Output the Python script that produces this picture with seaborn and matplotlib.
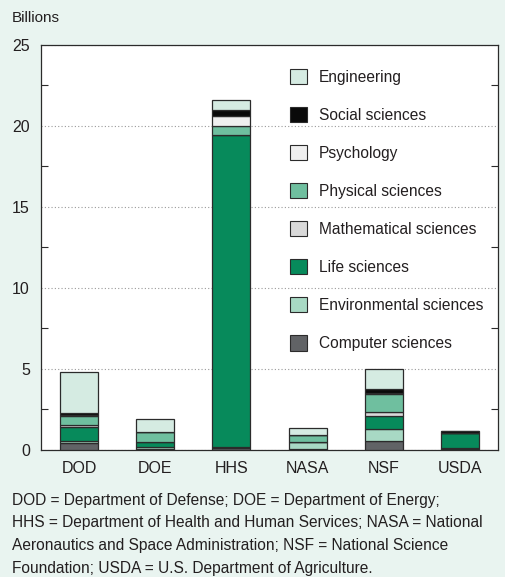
import numpy as np
import matplotlib
matplotlib.use("Agg")
import matplotlib.pyplot as plt
import seaborn as sns
from matplotlib.patches import Patch
from matplotlib.ticker import MultipleLocator

# ---- data (billions of dollars) ----
agencies = ["DOD", "DOE", "HHS", "NASA", "NSF", "USDA"]
# stacking order bottom -> top
fields = ["Computer sciences", "Environmental sciences", "Life sciences",
          "Mathematical sciences", "Physical sciences", "Psychology",
          "Social sciences", "Engineering"]
computer_sciences = [0.38, 0.06, 0.10, 0.02, 0.51, 0.02]
environmental_sciences = [0.17, 0.10, 0.05, 0.44, 0.78, 0.05]
life_sciences = [0.86, 0.30, 19.30, 0.02, 0.78, 0.93]
mathematical_sciences = [0.10, 0.00, 0.00, 0.00, 0.25, 0.00]
physical_sciences = [0.55, 0.62, 0.57, 0.42, 1.14, 0.03]
psychology = [0.05, 0.00, 0.62, 0.00, 0.05, 0.00]
social_sciences = [0.15, 0.00, 0.35, 0.00, 0.20, 0.12]
engineering = [2.53, 0.83, 0.62, 0.42, 1.24, 0.01]
series = [computer_sciences, environmental_sciences, life_sciences,
          mathematical_sciences, physical_sciences, psychology,
          social_sciences, engineering]

colors = {
    "Engineering": "#d5ebe2",
    "Social sciences": "#0a0a0a",
    "Psychology": "#efefef",
    "Physical sciences": "#6fbf9f",
    "Mathematical sciences": "#d9d9d9",
    "Life sciences": "#078a5b",
    "Environmental sciences": "#a8d9c4",
    "Computer sciences": "#616366",
}

footnote = [
    "DOD = Department of Defense; DOE = Department of Energy;",
    "HHS = Department of Health and Human Services; NASA = National",
    "Aeronautics and Space Administration; NSF = National Science",
    "Foundation; USDA = U.S. Department of Agriculture.",
]

BG = "#e9f4f0"
TXT = "#231f20"
EDGE = "#2b2b2b"

sns.set_theme(style="white")
plt.rcParams["font.family"] = ["Liberation Sans", "DejaVu Sans"]
plt.rcParams["text.color"] = TXT

W, H = 506, 577
fig = plt.figure(figsize=(W / 100, H / 100), dpi=100, facecolor=BG)
ax = fig.add_axes([41 / W, 1 - 449.5 / H, (498 - 41) / W, (449.5 - 45) / H])
ax.set_facecolor("white")

bottom = np.zeros(len(agencies))
for f, vals in zip(fields, series):
    sns.barplot(x=agencies, y=vals, order=agencies, color=colors[f],
                saturation=1, width=0.5, errorbar=None,
                bottom=bottom.copy(), edgecolor=EDGE, linewidth=0.9,
                zorder=3, ax=ax)
    bottom += np.array(vals)

ax.set_xlim(-0.5, 5.5)
ax.set_ylim(0, 25)
ax.set_xlabel("")
ax.set_ylabel("")
ax.yaxis.set_major_locator(MultipleLocator(5))
ax.yaxis.set_minor_locator(MultipleLocator(2.5))
ax.tick_params(axis="y", which="major", length=0, pad=8, labelsize=11.5,
               labelcolor=TXT)
ax.tick_params(axis="y", which="minor", direction="in", length=5, width=0.8,
               left=True, right=True, color=EDGE)
ax.tick_params(axis="x", length=0, pad=8, labelsize=11.5, labelcolor=TXT)
ax.set_axisbelow(True)
ax.grid(axis="y", which="major", linestyle=(0, (1, 2)), color="#9a9a9a",
        linewidth=0.8)
for s in ax.spines.values():
    s.set_visible(True)
    s.set_color(EDGE)
    s.set_linewidth(0.9)

handles = [Patch(facecolor=colors[f], edgecolor=EDGE, linewidth=0.8, label=f)
           for f in fields[::-1]]
ax.legend(handles=handles, loc="upper left", bbox_to_anchor=(0.545, 0.94),
          frameon=False, fontsize=11.2, handlelength=1.12, handleheight=1.12,
          handletextpad=0.75, labelspacing=1.425, borderpad=0,
          borderaxespad=0, labelcolor=TXT)

fig.text(12 / W, 1 - 18 / H, "Billions", ha="left", va="center",
         fontsize=11, color=TXT)
for i, line in enumerate(footnote):
    fig.text(12 / W, 1 - (500 + i * 22.7) / H, line, ha="left", va="center",
             fontsize=11.2, color=TXT)

fig.savefig("out.png", dpi=100, facecolor=BG)
